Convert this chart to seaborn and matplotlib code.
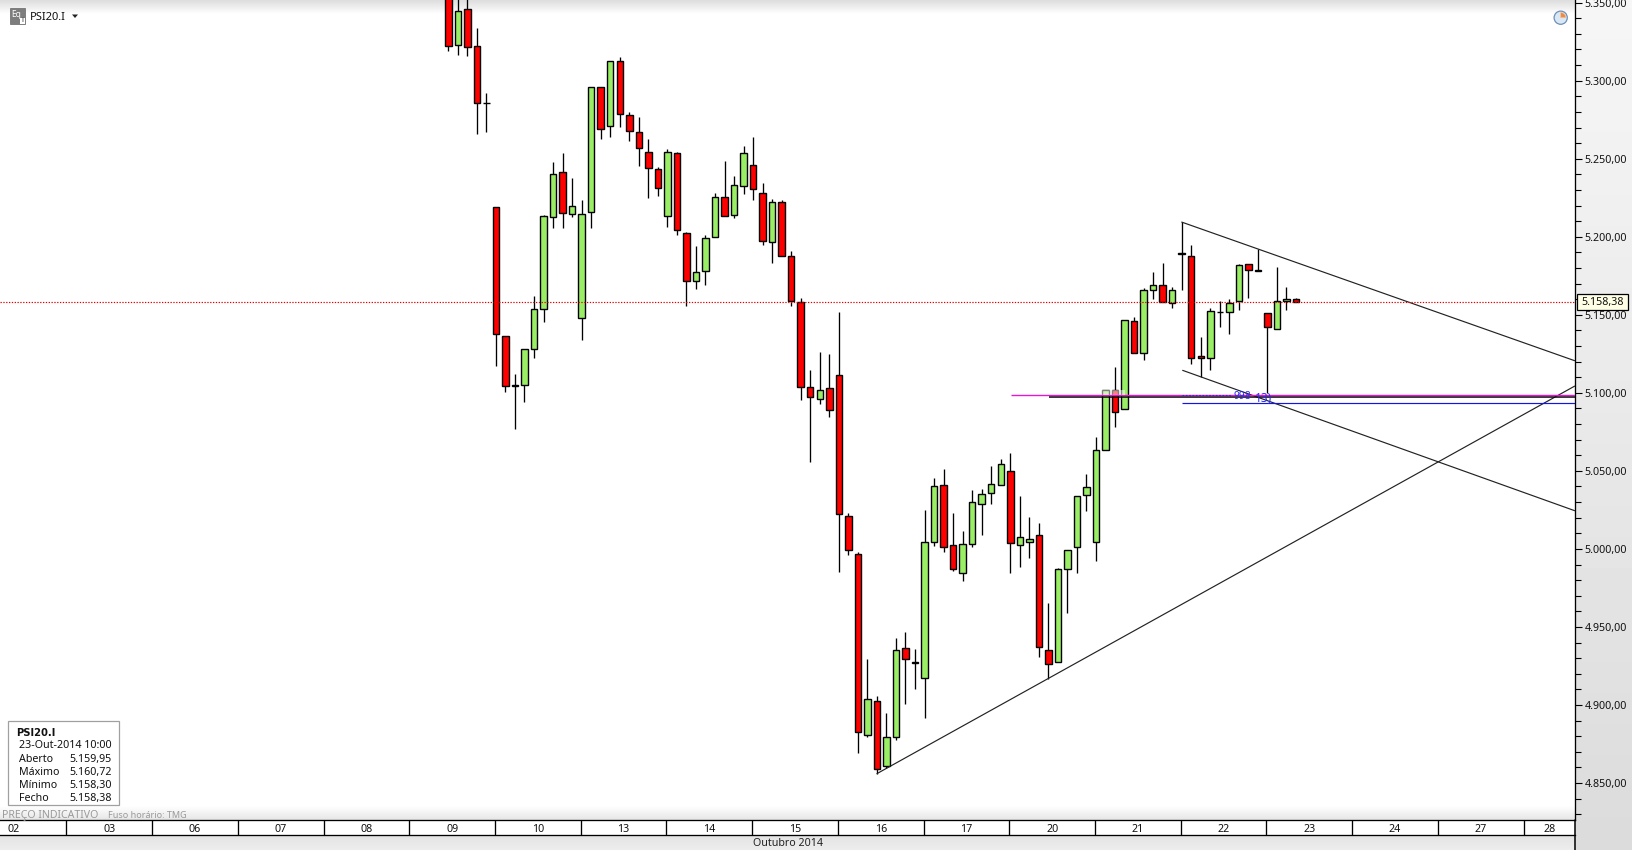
import numpy as np
import pandas as pd
import matplotlib
matplotlib.use("Agg")
import matplotlib.pyplot as plt
from matplotlib.patches import Rectangle, Circle, Wedge, Polygon
from matplotlib.ticker import FuncFormatter, MultipleLocator
import seaborn as sns

opens = [5375.0, 5322.6, 5345.9, 5322.2, 5285.5, 5219.1, 5136.4, 5104.8, 5104.8, 5128.1,
         5153.7, 5212.6, 5241.5, 5214.6, 5147.9, 5215.8, 5295.9, 5271.0, 5312.6, 5278.0,
         5267.1, 5254.3, 5243.4, 5213.3, 5253.7, 5202.4, 5171.6, 5178.0, 5199.8, 5225.5,
         5213.9, 5232.5, 5246.0, 5228.0, 5196.6, 5222.3, 5187.7, 5158.4, 5103.7, 5096.0,
         5103.1, 5111.4, 5021.1, 4996.7, 4880.7, 4902.5, 4860.9, 4879.5, 4936.5, 4927.7,
         4917.3, 5004.4, 5040.9, 5002.5, 4984.5, 5003.1, 5028.8, 5035.8, 5040.9, 5049.9,
         5002.5, 5004.4, 5008.9, 4935.2, 4927.5, 4987.1, 5001.2, 5034.5, 5004.4, 5063.4,
         5101.8, 5089.6, 5146.0, 5125.5, 5165.9, 5169.1, 5157.5, 5189.8, 5187.7, 5123.6,
         5122.3, 5151.8, 5151.8, 5158.8, 5182.5, 5178.9, 5151.1, 5140.9, 5158.8, 5159.95]
closes = [5322.2, 5344.6, 5321.4, 5285.5, 5285.5, 5137.7, 5104.4, 5104.2, 5128.1, 5153.7,
          5213.3, 5240.2, 5215.2, 5219.7, 5214.6, 5295.9, 5269.0, 5312.6, 5278.6, 5267.7,
          5256.9, 5244.0, 5231.2, 5254.3, 5204.3, 5171.6, 5177.4, 5199.2, 5225.5, 5213.3,
          5233.1, 5253.7, 5230.6, 5197.3, 5222.3, 5187.7, 5158.8, 5103.7, 5097.3, 5101.8,
          5089.0, 5022.3, 4999.3, 4882.7, 4903.8, 4859.0, 4879.5, 4935.2, 4929.4, 4927.1,
          5004.4, 5040.3, 5001.2, 4987.1, 5003.1, 5030.0, 5035.2, 5041.6, 5054.4, 5003.8,
          5007.6, 5006.3, 4937.1, 4926.2, 4987.1, 4999.3, 5033.9, 5039.6, 5063.4, 5101.8,
          5087.7, 5146.6, 5125.5, 5165.9, 5169.1, 5158.2, 5165.9, 5189.2, 5122.3, 5122.3,
          5152.4, 5151.8, 5157.5, 5181.9, 5178.7, 5178.3, 5142.2, 5158.8, 5160.1, 5158.38]
highs = [5385.0, 5358.0, 5358.0, 5334.0, 5292.3, 5219.1, 5136.4, 5112.3, 5128.1, 5162.2,
         5214.1, 5248.1, 5253.9, 5237.8, 5223.8, 5295.9, 5295.9, 5312.6, 5315.4, 5280.1,
         5276.9, 5262.6, 5244.9, 5256.4, 5254.5, 5203.2, 5194.3, 5201.3, 5228.2, 5248.7,
         5239.1, 5258.4, 5264.1, 5234.6, 5224.4, 5223.8, 5191.1, 5160.7, 5114.8, 5126.4,
         5125.1, 5152.0, 5023.0, 4998.0, 4929.7, 4905.9, 4895.0, 4943.1, 4947.0, 4936.1,
         5025.1, 5045.6, 5051.4, 5023.2, 5011.7, 5037.9, 5038.6, 5053.3, 5057.8, 5061.6,
         5034.1, 5020.6, 5016.8, 4965.5, 4987.7, 4999.3, 5033.9, 5048.0, 5071.7, 5101.8,
         5116.5, 5146.6, 5148.8, 5167.2, 5177.6, 5183.4, 5167.8, 5209.4, 5194.7, 5136.0,
         5154.3, 5158.8, 5160.1, 5182.5, 5182.5, 5192.1, 5151.1, 5180.8, 5167.8, 5160.72]
lows = [5318.8, 5316.7, 5316.0, 5266.0, 5267.3, 5117.0, 5100.3, 5077.0, 5093.9, 5122.1,
        5145.2, 5205.4, 5205.8, 5212.9, 5133.6, 5205.8, 5262.8, 5264.1, 5270.5, 5261.6,
        5245.5, 5225.0, 5226.3, 5206.5, 5201.3, 5155.8, 5166.7, 5169.3, 5199.8, 5213.3,
        5212.2, 5227.6, 5223.8, 5194.9, 5183.4, 5187.7, 5155.8, 5095.6, 5055.4, 5093.0,
        5084.7, 4985.4, 4996.3, 4869.4, 4879.2, 4856.0, 4859.6, 4877.8, 4900.8, 4910.4,
        4891.8, 5002.1, 4998.2, 4986.0, 4979.6, 5001.4, 5009.1, 5029.0, 5040.9, 4984.8,
        4988.6, 4994.4, 4930.9, 4916.8, 4927.5, 4959.1, 4984.8, 5024.5, 4992.4, 5063.4,
        5078.3, 5089.6, 5125.5, 5121.2, 5160.1, 5158.2, 5154.6, 5166.1, 5118.7, 5110.1,
        5114.8, 5142.4, 5137.9, 5153.3, 5161.0, 5178.0, 5099.9, 5140.9, 5153.3, 5158.30]

date_labels = ["02", "03", "06", "07", "08", "09", "10", "13", "14", "15",
               "16", "17", "20", "21", "22", "23", "24", "27", "28"]
last_price = 5158.38

# trend lines: (candle index, price)
trend_names = ["upper", "upper", "lower", "lower", "rising", "rising"]
trend_x = [78.0, 119.25, 78.1, 119.25, 46.0, 119.25]
trend_y = [5209.4, 5120.6, 5114.4, 5024.5, 4856.0, 5104.3]
level_black = 5097.6
level_magenta = 5098.5
level_blue = 5093.5

info_rows = [("Aberto", "5.159,95"), ("Máximo", "5.160,72"),
             ("Mínimo", "5.158,30"), ("Fecho", "5.158,38")]

W, H = 1633, 850
PLOT_R, PLOT_B = 1575, 820
X0, DX = 448.3, 9.525

def br(v, _=None):
    return f"{v:,.2f}".replace(",", "#").replace(".", ",").replace("#", ".")

def gradient(ax, x0, x1, y0, y1, c_top, c_bot):
    g = np.linspace(c_top, c_bot, 64).reshape(-1, 1)
    ax.imshow(g, cmap="gray", vmin=0, vmax=1, aspect="auto",
              extent=(x0, x1, y1, y0), interpolation="bilinear", zorder=0)

sns.set_theme(style="white")
plt.rcParams["font.family"] = ["Noto Sans", "DejaVu Sans"]
plt.rcParams["axes.unicode_minus"] = False

candles = pd.DataFrame({"o": opens, "h": highs, "l": lows, "c": closes})
candles["i"] = np.arange(1, len(candles) + 1)
candles["up"] = candles["c"] >= candles["o"]

fig = plt.figure(figsize=(W / 100, H / 100), dpi=100, facecolor="white")

# ── chrome behind the chart ───────────────────────────────────────────
bg = fig.add_axes([0, 0, 1, 1], zorder=0)
bg.axis("off")
gradient(bg, PLOT_R, W, 0, H, 0.965, 0.86)
gradient(bg, 0, PLOT_R, 0, 14, 0.865, 1.0)
gradient(bg, 0, PLOT_R, 806, 820, 1.0, 0.90)
gradient(bg, 0, PLOT_R, 835, H, 0.89, 0.93)
bg.add_patch(Rectangle((0, 820), PLOT_R, 15, fc="white", ec="none", zorder=1))
bg.plot([PLOT_R, PLOT_R], [820, H], color="black", lw=1.1, zorder=2)
bg.set_xlim(0, W)
bg.set_ylim(H, 0)

# ── main price axes ───────────────────────────────────────────────────
ax = fig.add_axes([0, (H - PLOT_B) / H, PLOT_R / W, PLOT_B / H], zorder=1)
ax.patch.set_alpha(0)
xlim = (1 + (0 - X0) / DX, 1 + (PLOT_R - X0) / DX)
ax.set_xlim(*xlim)
ax.set_ylim(5300 - (PLOT_B - 80.7) / 1.5607, 5300 + 80.7 / 1.5607)

ax.vlines(candles["i"], candles["l"], candles["h"], color="black", lw=0.95, zorder=2)
body_colors = np.where(candles["up"], "#99EE66", "#FF0000")
ax.bar(candles["i"], (candles["c"] - candles["o"]).abs(),
       bottom=candles[["o", "c"]].min(axis=1), width=0.68,
       color=body_colors, edgecolor="black", linewidth=1.0, zorder=3)

trends = pd.DataFrame({"name": trend_names, "x": trend_x, "y": trend_y})
sns.lineplot(data=trends, x="x", y="y", units="name", estimator=None, sort=False,
             color="#222222", linewidth=0.85, legend=False, ax=ax, zorder=4)
ax.hlines(level_black, 64.05, xlim[1], color="black", lw=1.1, zorder=4)
ax.hlines(level_blue, 78.0, xlim[1], color="#1414E6", lw=0.85, zorder=4)
ax.hlines(level_magenta, 60.06, xlim[1], color="#E815D8", lw=1.0, zorder=5)
ax.axhline(last_price, color="#E00000", lw=0.85, ls=(0, (1.1, 1.3)), zorder=5)

ax.set_xticks([])
ax.set_xlabel("")
ax.set_ylabel("")
for side in ["left", "top", "bottom"]:
    ax.spines[side].set_visible(False)
ax.spines["right"].set_color("black")
ax.spines["right"].set_linewidth(0.95)
ax.yaxis.tick_right()
ax.yaxis.set_major_locator(MultipleLocator(50))
ax.yaxis.set_minor_locator(MultipleLocator(10))
ax.yaxis.set_major_formatter(FuncFormatter(br))
ax.tick_params(axis="y", which="major", length=5, width=0.8, color="black",
               labelsize=7.7, pad=2, labelcolor="#111111", right=True)
ax.tick_params(axis="y", which="minor", length=4, width=0.8, color="black", right=True)

# ── date row ──────────────────────────────────────────────────────────
ax_d = fig.add_axes([0, (H - 835) / H, PLOT_R / W, 15 / H], zorder=1)
ax_d.patch.set_alpha(0)
ax_d.set_xlim(*xlim)
ax_d.set_ylim(0, 1)
ax_d.set_xticks([])
ax_d.set_yticks([])
for side in ["left", "right"]:
    ax_d.spines[side].set_visible(False)
for side in ["top", "bottom"]:
    ax_d.spines[side].set_color("black")
    ax_d.spines[side].set_linewidth(0.95)
bounds = -39.1 + 9 * np.arange(len(date_labels) - 1)
ax_d.vlines(bounds, 0, 1, color="black", lw=0.95)
centers = np.r_[-44.6, bounds[:-1] + 4.5, (bounds[-1] + xlim[1]) / 2]
for x, lab in zip(centers, date_labels):
    ax_d.text(x, 0.39, lab, ha="center", va="center", fontsize=7.7, color="#111111")

# ── overlay text and widgets, in pixel coordinates ────────────────────
fg = fig.add_axes([0, 0, 1, 1], zorder=3)
fg.axis("off")
fg.patch.set_alpha(0)
fg.set_xlim(0, W)
fg.set_ylim(H, 0)

fg.text(788, 843.5, "Outubro 2014", ha="center", va="center", fontsize=7.7, color="#222222")
fg.text(2, 815.5, "PREÇO INDICATIVO", va="center", fontsize=7.6, color="#9a9a9a")
fg.text(108, 815.5, "Fuso horário: TMG", va="center", fontsize=6.5, color="#9a9a9a")

# info box
fg.add_patch(Rectangle((8.5, 720.5), 111, 84.5, fc="white", ec="#a0a0a0", lw=0.9))
fg.text(16, 733, "PSI20.I", va="center", fontsize=7.2, weight="bold",
        family="DejaVu Sans", color="#111111")
fg.text(19, 746, "23-Out-2014 10:00", va="center", fontsize=7.7, color="#111111")
for (name, val), y in zip(info_rows, [759.3, 772.7, 785.3, 798.3]):
    fg.text(19.5, y, name, va="center", fontsize=7.7, color="#111111")
    fg.text(112, y, val, va="center", ha="right", fontsize=7.7, color="#111111")

# header
fg.add_patch(Rectangle((10, 8), 15.5, 15.5, fc="#7d7d7d", ec="#666666", lw=0.5))
fg.text(16, 14.5, "Eq", ha="center", va="center", fontsize=6, color="white")
fg.add_patch(Rectangle((20, 18), 5.5, 5.5, fc="white", ec="none"))
fg.text(22.7, 20.7, "i", ha="center", va="center", fontsize=5.5, weight="bold", color="#333333")
fg.text(30, 17.5, "PSI20.I", va="center", fontsize=8, color="#111111")
fg.add_patch(Polygon([[72, 14.5], [78, 14.5], [75, 18]], fc="#222222", ec="none"))

# clock icon
fg.add_patch(Circle((1560.7, 17.7), 6.6, fc="#d8e8f5", ec="#6f8fb8", lw=0.9))
fg.add_patch(Wedge((1560.7, 17.7), 5.2, 270, 360, fc="#ec8a4a", ec="#f3c29a", lw=0.5))

# last price tag
fg.add_patch(Rectangle((1578.5, 294.5), 51, 16, fc="#bbbbbb", ec="none"))
fg.add_patch(Rectangle((1577.5, 293.5), 51, 16, fc="#FFFFE6", ec="black", lw=0.9))
fg.text(1603, 302.8, br(last_price), ha="center", va="center", fontsize=7.7, color="#111111")

# washed out drawing tool labels
fg.add_patch(Rectangle((1101, 390), 24, 5, fc="white", ec="none", alpha=0.5))
fg.plot([1182, 1232], [395, 395], color="#2A2AF0", lw=0.8, ls=(0, (1.5, 1.5)))
fg.text(1242, 396, "998", ha="center", va="center", fontsize=7.4, color="#2A2AF0")
fg.text(1264, 398.5, "13)", ha="center", va="center", fontsize=8.6, color="#2A2AF0")

fig.savefig("out.png", dpi=100)
